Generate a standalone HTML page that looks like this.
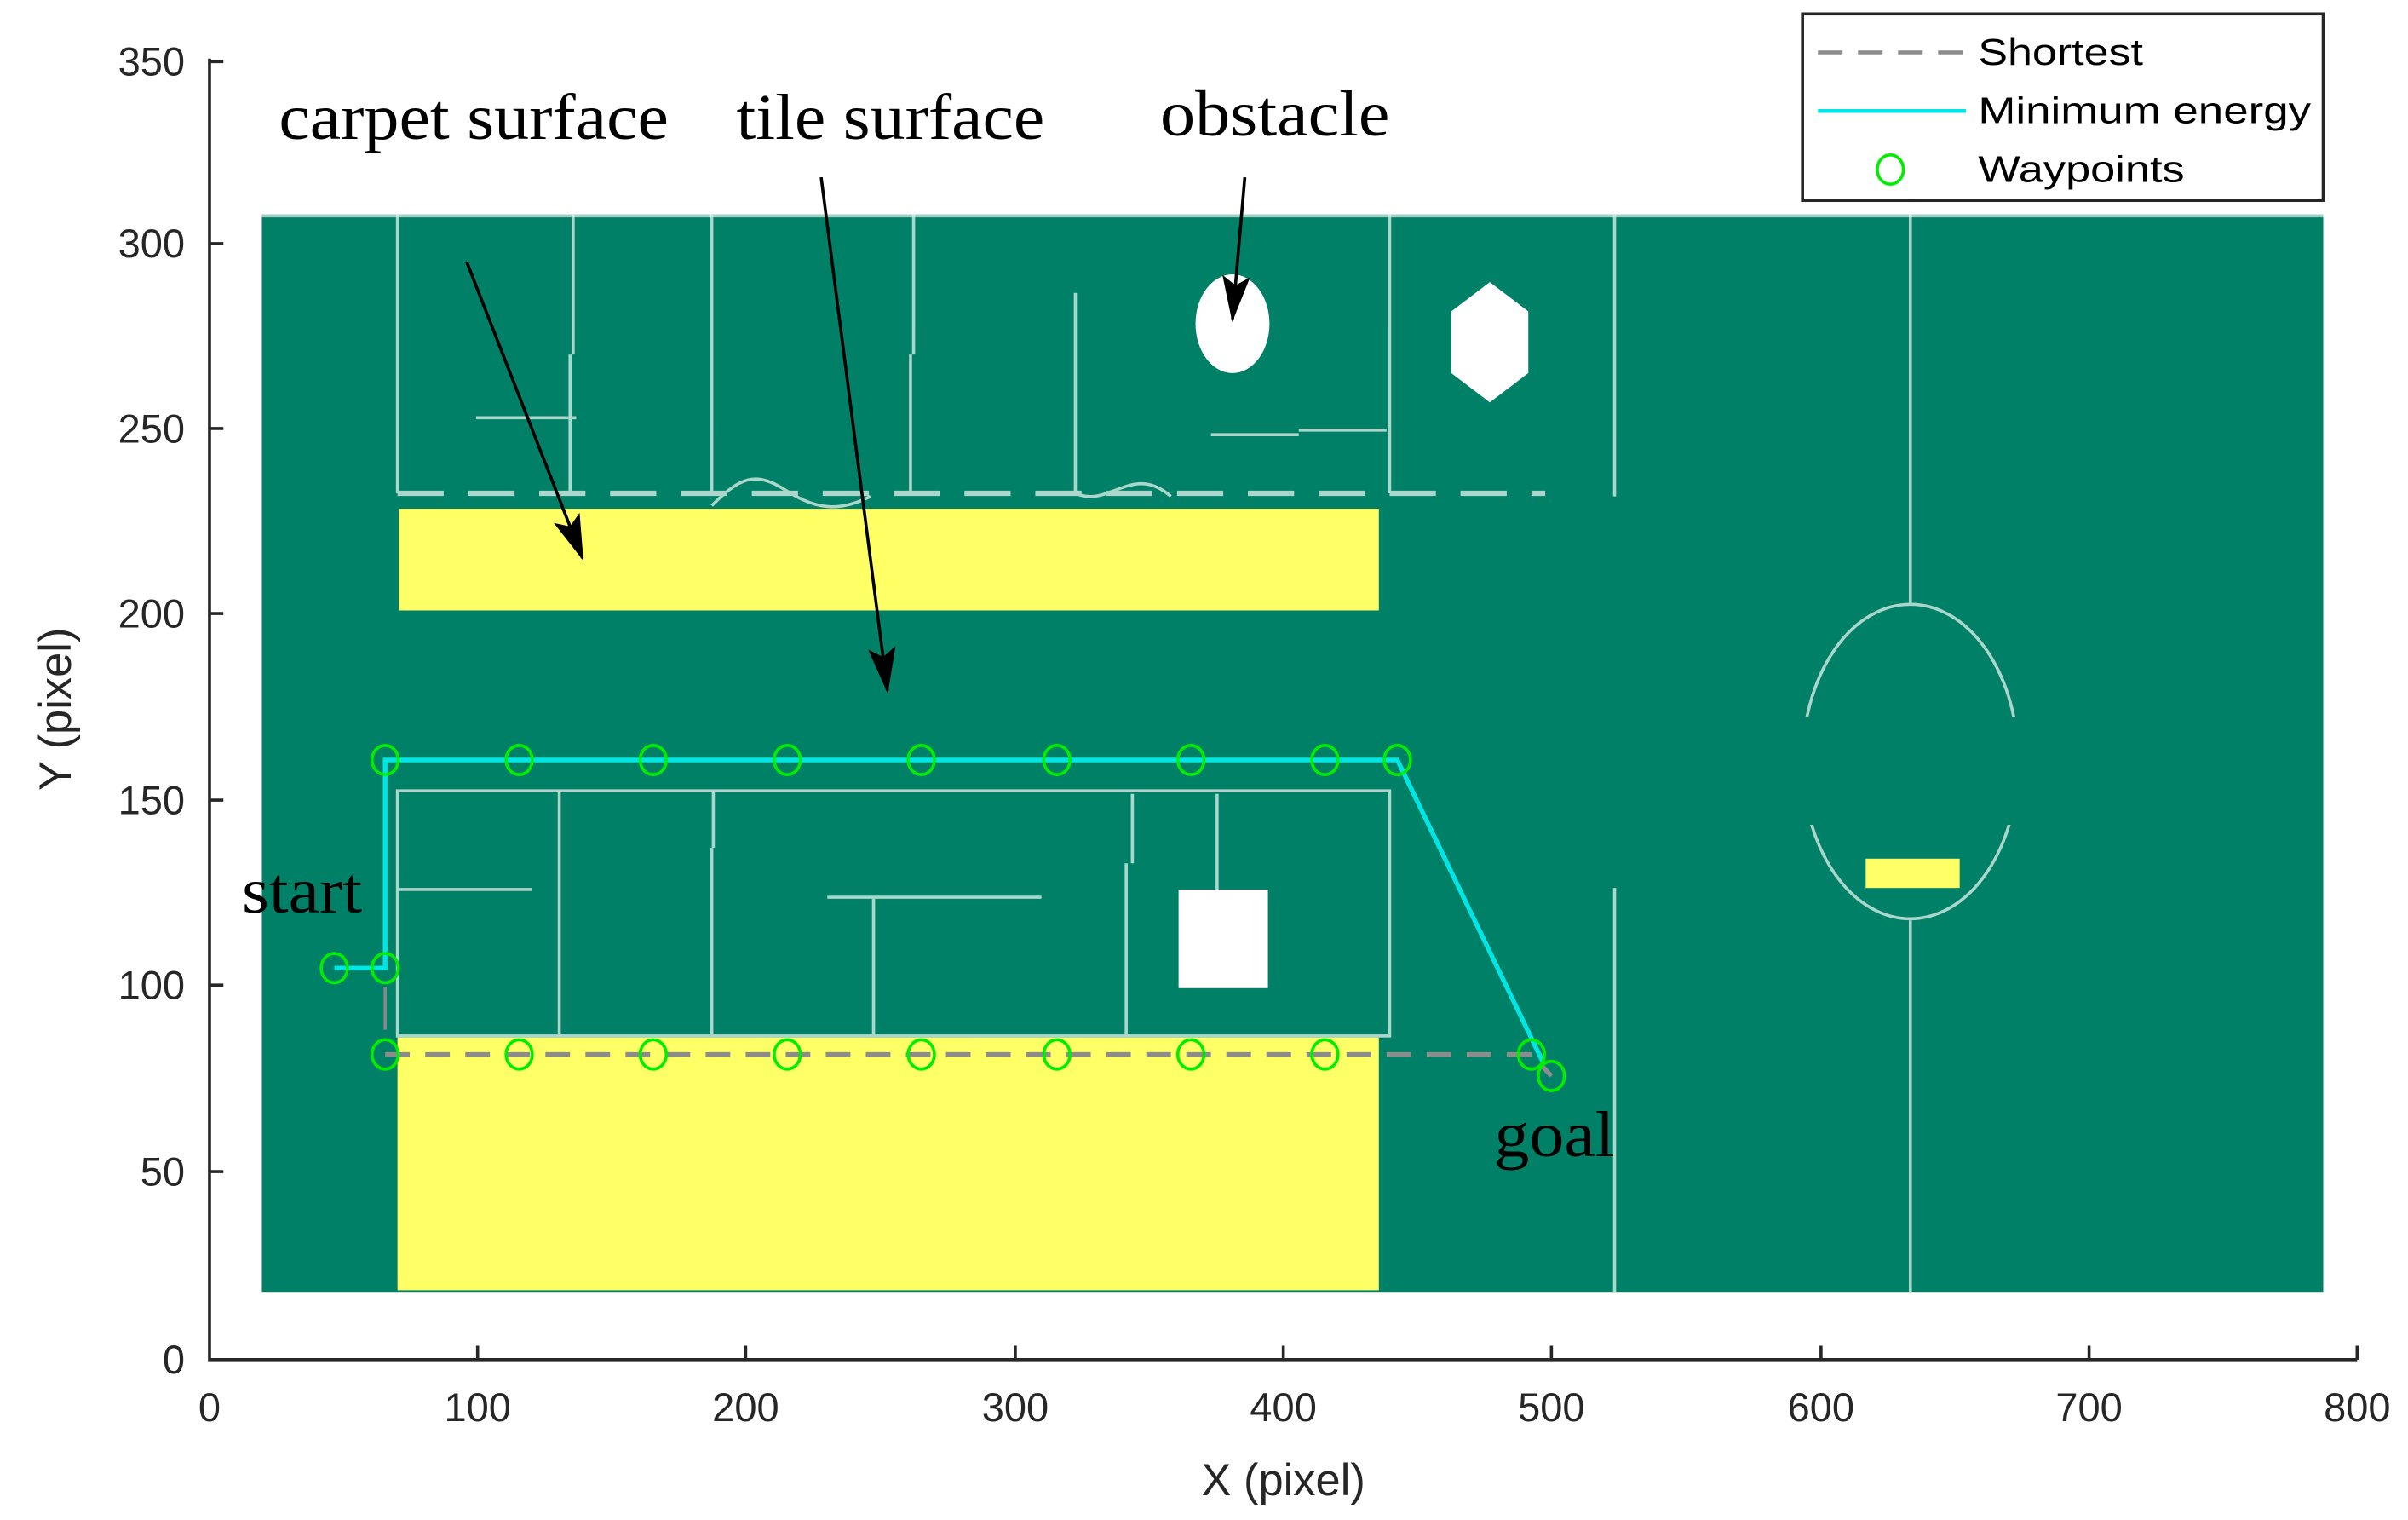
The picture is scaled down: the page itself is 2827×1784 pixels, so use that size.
<!DOCTYPE html>
<html><head><meta charset="utf-8"><style>
html,body{margin:0;padding:0;background:#fff;}
svg{display:block;}
.ax{font-family:"Liberation Sans",sans-serif;font-size:26px;fill:#262626;}
.an{font-family:"Liberation Serif",serif;font-size:42px;fill:#000;}
.lg{font-family:"Liberation Sans",sans-serif;font-size:24px;fill:#000;}
</style></head><body>
<svg width="2827" height="1784" viewBox="0 0 1563 986" preserveAspectRatio="none" xmlns="http://www.w3.org/2000/svg">
<defs>
<marker id="ah" markerWidth="30" markerHeight="20" refX="28" refY="9" orient="auto" markerUnits="userSpaceOnUse" viewBox="0 0 30 18"><path d="M0,0 L30,9 L0,18 L6,9 z" fill="#000"/></marker>
<clipPath id="ct"><rect x="1100" y="380" width="300" height="85"/></clipPath>
<clipPath id="cb"><rect x="1100" y="535" width="300" height="80"/></clipPath>
</defs>
<rect x="170" y="139" width="1338" height="699" fill="#008066"/>
<line x1="170" y1="140" x2="1508" y2="140" stroke="#9fd0c3" stroke-width="2"/>
<rect x="259" y="330" width="636" height="66" fill="#ffff66"/>
<rect x="258" y="673" width="637" height="164" fill="#ffff66"/>
<rect x="1211" y="557" width="61" height="19" fill="#ffff66"/>
<g stroke="#c8e6de" stroke-width="2" fill="none" opacity="0.85">
<line x1="258" y1="139" x2="258" y2="320"/>
<line x1="372" y1="139" x2="372" y2="230"/><line x1="370" y1="230" x2="370" y2="320"/>
<line x1="462" y1="139" x2="462" y2="320"/>
<line x1="593" y1="139" x2="593" y2="230"/><line x1="591" y1="230" x2="591" y2="320"/>
<line x1="698" y1="190" x2="698" y2="320"/>
<line x1="902" y1="139" x2="902" y2="320"/>
<line x1="1048" y1="139" x2="1048" y2="322"/>
<line x1="1048" y1="576" x2="1048" y2="838"/>
<line x1="1240" y1="139" x2="1240" y2="392"/>
<line x1="1240" y1="597" x2="1240" y2="838"/>
<line x1="309" y1="271" x2="374" y2="271"/>
<line x1="786" y1="282" x2="843" y2="282"/><line x1="843" y1="279" x2="900" y2="279"/>
<path d="M258,320 H1003" stroke-width="3.5" stroke-dasharray="30,16"/>
<path d="M462,328 C480,310 490,305 510,318 S545,332 565,322" />
<path d="M698,320 C720,330 735,300 760,322"/>
<ellipse cx="1240" cy="494" rx="70" ry="102" clip-path="url(#ct)"/>
<ellipse cx="1240" cy="494" rx="70" ry="102" clip-path="url(#cb)"/>
<rect x="258" y="513" width="644" height="159"/>
<line x1="363" y1="513" x2="363" y2="672"/>
<line x1="463" y1="513" x2="463" y2="550"/><line x1="462" y1="550" x2="462" y2="672"/>
<line x1="567" y1="583" x2="567" y2="672"/>
<line x1="735" y1="515" x2="735" y2="560"/><line x1="731" y1="560" x2="731" y2="672"/>
<line x1="790" y1="515" x2="790" y2="577"/>
<line x1="259" y1="577" x2="345" y2="577"/>
<line x1="537" y1="582" x2="676" y2="582"/>
</g>
<ellipse cx="800" cy="210" rx="24" ry="32" fill="#fff"/>
<polygon points="967,183 992,202 992,242 967,261 942,242 942,202" fill="#fff"/>
<rect x="765" y="577" width="58" height="64" fill="#fff"/>
<line x1="250" y1="640" x2="250" y2="668" stroke="#888" stroke-width="2"/>
<path d="M250,684 H994 L1007,698" stroke="#8c8c8c" stroke-width="3" stroke-dasharray="16,10" fill="none"/>
<path d="M217,628 H250 V493 H907 L1002,690" stroke="#00e5e5" stroke-width="3" fill="none"/>
<g fill="none" stroke="#00ee00" stroke-width="2">
<ellipse cx="217" cy="628" rx="8.5" ry="9.5"/><ellipse cx="250" cy="628" rx="8.5" ry="9.5"/>
<ellipse cx="250" cy="493" rx="8.5" ry="9.5"/><ellipse cx="337" cy="493" rx="8.5" ry="9.5"/><ellipse cx="424" cy="493" rx="8.5" ry="9.5"/><ellipse cx="511" cy="493" rx="8.5" ry="9.5"/><ellipse cx="598" cy="493" rx="8.5" ry="9.5"/><ellipse cx="686" cy="493" rx="8.5" ry="9.5"/><ellipse cx="773" cy="493" rx="8.5" ry="9.5"/><ellipse cx="860" cy="493" rx="8.5" ry="9.5"/><ellipse cx="907" cy="493" rx="8.5" ry="9.5"/>
<ellipse cx="250" cy="684" rx="8.5" ry="9.5"/><ellipse cx="337" cy="684" rx="8.5" ry="9.5"/><ellipse cx="424" cy="684" rx="8.5" ry="9.5"/><ellipse cx="511" cy="684" rx="8.5" ry="9.5"/><ellipse cx="598" cy="684" rx="8.5" ry="9.5"/><ellipse cx="686" cy="684" rx="8.5" ry="9.5"/><ellipse cx="773" cy="684" rx="8.5" ry="9.5"/><ellipse cx="860" cy="684" rx="8.5" ry="9.5"/><ellipse cx="994" cy="684" rx="8.5" ry="9.5"/><ellipse cx="1007" cy="698" rx="8.5" ry="9.5"/>
</g>
<text class="an" x="181" y="90" textLength="253" lengthAdjust="spacingAndGlyphs">carpet surface</text>
<text class="an" x="478" y="90" textLength="200" lengthAdjust="spacingAndGlyphs">tile surface</text>
<text class="an" x="753" y="88" textLength="149" lengthAdjust="spacingAndGlyphs">obstacle</text>
<text class="an" x="157" y="592" textLength="78" lengthAdjust="spacingAndGlyphs">start</text>
<text class="an" x="970" y="750" textLength="78" lengthAdjust="spacingAndGlyphs">goal</text>
<g stroke="#000" stroke-width="2" marker-end="url(#ah)">
<line x1="303" y1="170" x2="378" y2="362"/>
<line x1="533" y1="115" x2="576" y2="448"/>
<line x1="808" y1="115" x2="800" y2="207"/>
</g>
<g stroke="#262626" stroke-width="2" fill="none">
<path d="M136,38 V882 H1530"/>
<path d="M136,40 h9 M136,158 h9 M136,278 h9 M136,398 h9 M136,519 h9 M136,639 h9 M136,760 h9"/>
<path d="M310,882 v-9 M484,882 v-9 M659,882 v-9 M833,882 v-9 M1007,882 v-9 M1182,882 v-9 M1356,882 v-9 M1530,882 v-9"/>
</g>
<g class="ax" text-anchor="end">
<text x="120" y="49">350</text><text x="120" y="167">300</text><text x="120" y="287">250</text><text x="120" y="407">200</text><text x="120" y="528">150</text><text x="120" y="648">100</text><text x="120" y="769">50</text><text x="120" y="891">0</text>
</g>
<g class="ax" text-anchor="middle">
<text x="136" y="922">0</text><text x="310" y="922">100</text><text x="484" y="922">200</text><text x="659" y="922">300</text><text x="833" y="922">400</text><text x="1007" y="922">500</text><text x="1182" y="922">600</text><text x="1356" y="922">700</text><text x="1530" y="922">800</text>
<text x="833" y="970" font-size="29">X (pixel)</text>
<text x="0" y="0" font-size="29" transform="translate(46,460) rotate(-90)">Y (pixel)</text>
</g>
<rect x="1170" y="9" width="338" height="121" fill="#fff" stroke="#262626" stroke-width="2"/>
<line x1="1180" y1="34" x2="1276" y2="34" stroke="#8c8c8c" stroke-width="2.5" stroke-dasharray="16,10"/>
<line x1="1180" y1="72" x2="1276" y2="72" stroke="#00e5e5" stroke-width="2.5"/>
<ellipse cx="1227" cy="110" rx="8.5" ry="9.5" fill="none" stroke="#00ee00" stroke-width="2"/>
<text class="lg" x="1284" y="42" textLength="107" lengthAdjust="spacingAndGlyphs">Shortest</text>
<text class="lg" x="1284" y="80" textLength="216" lengthAdjust="spacingAndGlyphs">Minimum energy</text>
<text class="lg" x="1284" y="118" textLength="134" lengthAdjust="spacingAndGlyphs">Waypoints</text>
</svg>
</body></html>
